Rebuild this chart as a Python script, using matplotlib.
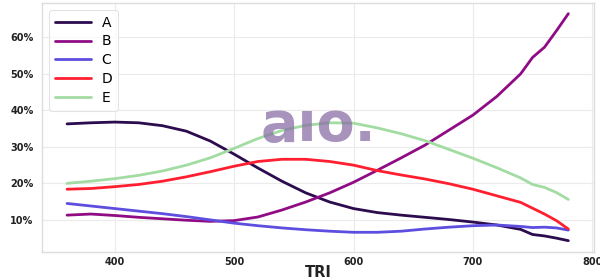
import matplotlib
matplotlib.use("Agg")
import matplotlib.pyplot as plt
from matplotlib.ticker import FuncFormatter

tri = [360, 380, 400, 420, 440, 460, 480, 500, 520, 540, 560, 580, 600,
       620, 640, 660, 680, 700, 720, 740, 750, 760, 770, 780]
series_a = [36.3, 36.6, 36.8, 36.6, 35.8, 34.3, 31.6, 28.0, 24.2, 20.6, 17.4, 14.9, 13.1,
            12.0, 11.3, 10.7, 10.1, 9.4, 8.6, 7.4, 6.0, 5.6, 5.0, 4.3]
series_b = [11.3, 11.6, 11.2, 10.7, 10.3, 9.9, 9.6, 9.8, 10.8, 12.7, 14.9, 17.4, 20.3,
            23.6, 27.0, 30.5, 34.6, 38.7, 43.8, 50.0, 54.5, 57.3, 61.8, 66.5]
series_c = [14.5, 13.8, 13.1, 12.4, 11.7, 10.9, 10.0, 9.1, 8.4, 7.8, 7.3, 6.9, 6.6,
            6.6, 6.9, 7.5, 8.0, 8.4, 8.6, 8.2, 7.9, 8.0, 7.8, 7.2]
series_d = [18.4, 18.6, 19.1, 19.7, 20.6, 21.8, 23.2, 24.7, 26.0, 26.6, 26.6, 26.0, 25.0,
            23.5, 22.3, 21.2, 19.9, 18.4, 16.6, 14.8, 13.2, 11.6, 9.8, 7.5]
series_e = [20.0, 20.6, 21.3, 22.2, 23.4, 25.0, 27.0, 29.6, 32.3, 34.5, 35.9, 36.6, 36.5,
            35.2, 33.6, 31.7, 29.3, 26.9, 24.3, 21.5, 19.7, 18.9, 17.5, 15.6]
labels = ["A", "B", "C", "D", "E"]
colors = ["#2c0b4e", "#900c85", "#5d4ee0", "#ff1f30", "#a3dca3"]

fig = plt.figure(figsize=(6, 2.8), dpi=100)
ax = fig.add_axes([0.07, 0.1, 0.92, 0.889])

for ys, lab, col in zip([series_a, series_b, series_c, series_d, series_e], labels, colors):
    ax.plot(tri, ys, color=col, lw=2, label=lab, solid_capstyle="round",
            solid_joinstyle="round")

ax.set_xticks([400, 500, 600, 700, 800])
ax.set_yticks([10, 20, 30, 40, 50, 60])
ax.yaxis.set_major_formatter(FuncFormatter(lambda v, p: f"{int(v)}%"))
ax.set_xlim(339, 801.5)
ax.set_ylim(1.2, 69.4)
ax.grid(True, color="#ebebeb", lw=0.8)
ax.set_axisbelow(True)
for s in ax.spines.values():
    s.set_color("#dddddd")
    s.set_linewidth(1)
ax.tick_params(axis="x", length=0, labelsize=7, pad=3.5, colors="#222222")
ax.tick_params(axis="y", length=0, labelsize=7, pad=6, colors="#222222")
for t in ax.get_xticklabels() + ax.get_yticklabels():
    t.set_fontweight("bold")
ax.set_xlabel("TRI", fontsize=10.5, fontweight="bold", color="#222222", va="center")
ax.xaxis.set_label_coords(0.5, -0.083)

leg = ax.legend(loc="upper left", fontsize=10, frameon=True, handlelength=2.6,
                borderpad=0.4, labelspacing=0.35, handletextpad=0.8,
                bbox_to_anchor=(0.0, 1.0))
leg.get_frame().set_edgecolor("#dddddd")
leg.get_frame().set_linewidth(0.8)

fig.text(0.53, 0.55, "aıo.", fontsize=40, fontweight="bold", color="#8a6fa6",
         alpha=0.75, ha="center", va="center", zorder=10)

fig.savefig("out.png", dpi=100, facecolor="white")
